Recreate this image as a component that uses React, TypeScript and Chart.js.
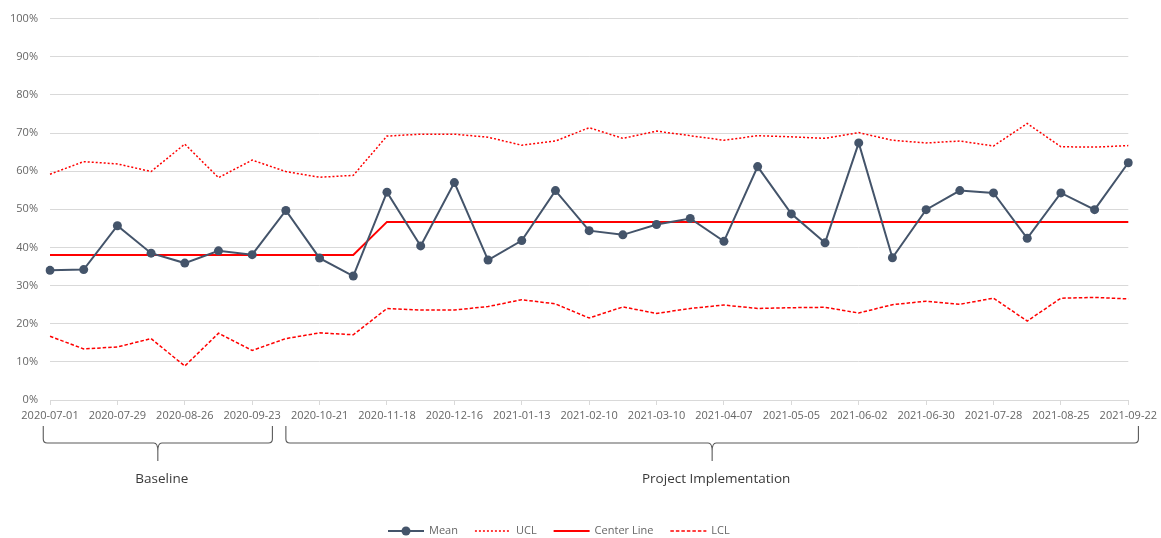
import React, { useEffect, useRef } from 'react';
import { Chart, registerables } from 'chart.js';

Chart.register(...registerables);

const dates = [
  '2020-07-01', '2020-07-15', '2020-07-29', '2020-08-12', '2020-08-26', '2020-09-09', '2020-09-23',
  '2020-10-07', '2020-10-21', '2020-11-04', '2020-11-18', '2020-12-02', '2020-12-16', '2020-12-30',
  '2021-01-13', '2021-01-27', '2021-02-10', '2021-02-24', '2021-03-10', '2021-03-24', '2021-04-07',
  '2021-04-21', '2021-05-05', '2021-05-19', '2021-06-02', '2021-06-16', '2021-06-30', '2021-07-14',
  '2021-07-28', '2021-08-11', '2021-08-25', '2021-09-08', '2021-09-22',
];

const meanValues = [
  34.0, 34.2, 45.7, 38.5, 35.9, 39.1, 38.1, 49.7, 37.2, 32.5, 54.5,
  40.4, 57.0, 36.7, 41.8, 54.9, 44.4, 43.3, 46.0, 47.6, 41.6, 61.2,
  48.8, 41.2, 67.4, 37.3, 49.9, 54.9, 54.3, 42.4, 54.3, 49.9, 62.2,
];

const uclValues = [
  59.2, 62.5, 61.9, 59.9, 67.1, 58.3, 62.9, 59.9, 58.4, 58.9, 69.2,
  69.7, 69.7, 68.9, 66.8, 67.9, 71.4, 68.6, 70.5, 69.3, 68.1, 69.3,
  69.0, 68.6, 70.1, 68.1, 67.4, 67.9, 66.6, 72.5, 66.4, 66.3, 66.7,
];

const centerValues = [
  38.0, 38.0, 38.0, 38.0, 38.0, 38.0, 38.0, 38.0, 38.0, 38.0, 46.7,
  46.7, 46.7, 46.7, 46.7, 46.7, 46.7, 46.7, 46.7, 46.7, 46.7, 46.7,
  46.7, 46.7, 46.7, 46.7, 46.7, 46.7, 46.7, 46.7, 46.7, 46.7, 46.7,
];

const lclValues = [
  16.7, 13.4, 13.9, 16.1, 8.9, 17.5, 13.0, 16.1, 17.6, 17.1, 24.0,
  23.6, 23.6, 24.5, 26.3, 25.2, 21.5, 24.4, 22.7, 24.0, 24.9, 24.0,
  24.2, 24.3, 22.8, 25.0, 25.9, 25.1, 26.7, 20.7, 26.7, 26.9, 26.5,
];

const yTickMin = 0;
const yTickMax = 100;
const yTickStep = 10;

const phaseLabels = ['Baseline', 'Project Implementation'];
const phaseFrom = [-0.2, 7.0];
const phaseTo = [6.6, 32.3];

const FONT = '"Open Sans", "Noto Sans", sans-serif';
const TICK_COLOR = '#666666';
const GRID_COLOR = '#d9d9d9';
const MEAN_COLOR = '#44546a';
const RED = '#ff0000';

const overlayPlugin = {
  id: 'overlay',
  afterDraw(chart: any) {
    const ctx: CanvasRenderingContext2D = chart.ctx;
    const xs = chart.scales.x;
    ctx.save();

    // Phase braces
    const yTop = 426;
    const yMid = 443;
    const yBot = 461;
    const r = 4;
    ctx.strokeStyle = '#5a5a5a';
    ctx.lineWidth = 1.1;
    phaseLabels.forEach((label, i) => {
      const x0 = xs.getPixelForValue(phaseFrom[i]);
      const x1 = xs.getPixelForValue(phaseTo[i]);
      const xm = (x0 + x1) / 2;
      ctx.beginPath();
      ctx.moveTo(x0, yTop);
      ctx.lineTo(x0, yMid - r);
      ctx.quadraticCurveTo(x0, yMid, x0 + r, yMid);
      ctx.lineTo(xm - r, yMid);
      ctx.quadraticCurveTo(xm, yMid, xm, yMid + r * 2);
      ctx.lineTo(xm, yBot);
      ctx.moveTo(xm, yMid + r * 2);
      ctx.quadraticCurveTo(xm, yMid, xm + r, yMid);
      ctx.lineTo(x1 - r, yMid);
      ctx.quadraticCurveTo(x1, yMid, x1, yMid - r);
      ctx.lineTo(x1, yTop);
      ctx.stroke();

      ctx.fillStyle = '#3a3a3a';
      ctx.font = `13.5px ${FONT}`;
      ctx.textAlign = 'center';
      ctx.textBaseline = 'middle';
      ctx.fillText(label, xm + 4, 479);
    });

    // Legend
    const ly = 531;
    let lx = 388;
    const lineLen = 36;
    ctx.font = `11px ${FONT}`;
    ctx.textAlign = 'left';
    ctx.textBaseline = 'middle';
    chart.data.datasets.forEach((ds: any) => {
      ctx.save();
      ctx.strokeStyle = ds.borderColor;
      ctx.lineWidth = ds.borderWidth;
      ctx.setLineDash(ds.borderDash || []);
      ctx.beginPath();
      ctx.moveTo(lx, ly);
      ctx.lineTo(lx + lineLen, ly);
      ctx.stroke();
      ctx.setLineDash([]);
      if (ds.pointRadius > 0) {
        ctx.fillStyle = ds.pointBackgroundColor;
        ctx.beginPath();
        ctx.arc(lx + lineLen / 2, ly, ds.pointRadius, 0, Math.PI * 2);
        ctx.fill();
      }
      ctx.restore();
      ctx.fillStyle = TICK_COLOR;
      const tx = lx + lineLen + 5;
      ctx.fillText(ds.label, tx, ly);
      lx = tx + ctx.measureText(ds.label).width + 17;
    });

    ctx.restore();
  },
};

export default function App() {
  const canvasRef = useRef<HTMLCanvasElement | null>(null);

  useEffect(() => {
    if (!canvasRef.current) return;
    const chart = new Chart(canvasRef.current, {
      type: 'line',
      data: {
        labels: dates,
        datasets: [
          {
            label: 'Mean',
            data: meanValues,
            borderColor: MEAN_COLOR,
            backgroundColor: MEAN_COLOR,
            pointBackgroundColor: MEAN_COLOR,
            pointBorderWidth: 0,
            pointRadius: 4.5,
            borderWidth: 2,
            tension: 0,
            fill: false,
          },
          {
            label: 'UCL',
            data: uclValues,
            borderColor: RED,
            backgroundColor: RED,
            borderWidth: 1.5,
            borderDash: [2, 2],
            pointRadius: 0,
            tension: 0,
            fill: false,
          },
          {
            label: 'Center Line',
            data: centerValues,
            borderColor: RED,
            backgroundColor: RED,
            borderWidth: 2,
            pointRadius: 0,
            tension: 0,
            fill: false,
          },
          {
            label: 'LCL',
            data: lclValues,
            borderColor: RED,
            backgroundColor: RED,
            borderWidth: 1.5,
            borderDash: [3.5, 2],
            pointRadius: 0,
            tension: 0,
            fill: false,
          },
        ],
      },
      options: {
        animation: false,
        responsive: false,
        layout: { padding: { left: 0, right: 31, top: 16, bottom: 0 } },
        plugins: {
          legend: { display: false },
          tooltip: { enabled: false },
        },
        scales: {
          x: {
            type: 'category',
            offset: false,
            afterFit: (scale: any) => {
              scale.height = 138;
            },
            grid: {
              drawOnChartArea: false,
              drawTicks: true,
              tickLength: 5,
              tickColor: (c: any) => (c.index % 2 === 0 ? GRID_COLOR : 'rgba(0,0,0,0)'),
            },
            border: { display: true, color: GRID_COLOR },
            ticks: {
              autoSkip: false,
              maxRotation: 0,
              minRotation: 0,
              padding: 4,
              color: TICK_COLOR,
              font: { family: FONT, size: 11 },
              callback: (_v: any, i: number) => (i % 2 === 0 ? dates[i] : ''),
            },
          },
          y: {
            min: yTickMin,
            max: yTickMax,
            afterFit: (scale: any) => {
              scale.width = 50;
            },
            grid: { color: GRID_COLOR, drawTicks: false, lineWidth: 1 },
            border: { display: false },
            ticks: {
              stepSize: yTickStep,
              padding: 12,
              color: TICK_COLOR,
              font: { family: FONT, size: 11 },
              callback: (v: any) => `${v}%`,
            },
          },
        },
      },
      plugins: [overlayPlugin],
    });
    return () => chart.destroy();
  }, []);

  return (
    <div style={{ position: 'fixed', left: 0, top: 0, width: 1161, height: 538, background: '#fff' }}>
      <canvas ref={canvasRef} width={1161} height={538} style={{ display: 'block' }} />
    </div>
  );
}
